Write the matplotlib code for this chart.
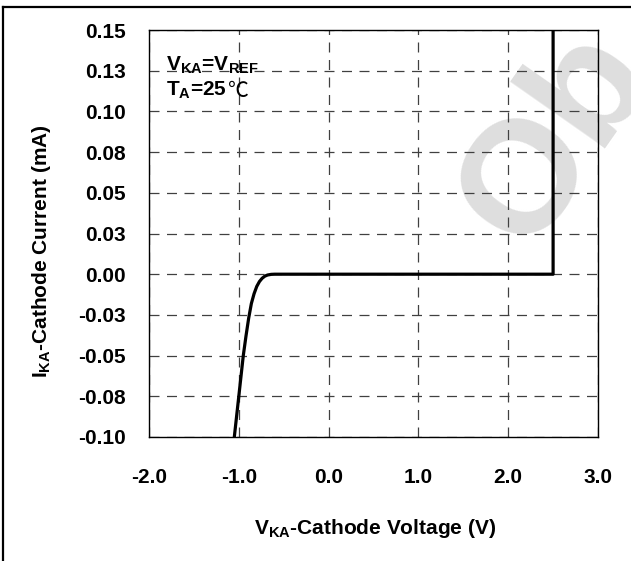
import numpy as np
import matplotlib.pyplot as plt
from matplotlib.lines import Line2D

# cathode voltage vs cathode current
v_ka = [-1.05, -1.00, -0.95, -0.92, -0.89, -0.86, -0.83, -0.80, -0.77, -0.74, -0.71, -0.68, -0.64, -0.60, -0.575, 2.50, 2.50]
i_ka = [-0.100, -0.075, -0.050, -0.038, -0.027, -0.018, -0.012, -0.0075, -0.0045, -0.0025, -0.0012, -0.0005, -0.0001, 0.0, 0.0, 0.0, 0.15]

x_ticks = [-2.0, -1.0, 0.0, 1.0, 2.0, 3.0]
x_labels = ['-2.0', '-1.0', '0.0', '1.0', '2.0', '3.0']
y_ticks = [0.15, 0.125, 0.10, 0.075, 0.05, 0.025, 0.0, -0.025, -0.05, -0.075, -0.10]
y_labels = ['0.15', '0.13', '0.10', '0.08', '0.05', '0.03', '0.00', '-0.03', '-0.05', '-0.08', '-0.10']

plt.rcParams['font.family'] = ['Liberation Sans', 'DejaVu Sans']
plt.rcParams['font.weight'] = 'bold'
plt.rcParams['mathtext.fontset'] = 'custom'
plt.rcParams['mathtext.rm'] = 'Liberation Sans:bold'
plt.rcParams['mathtext.it'] = 'Liberation Sans:bold'
plt.rcParams['mathtext.bf'] = 'Liberation Sans:bold'

fig = plt.figure(figsize=(6.31, 5.61), dpi=100)
ax = fig.add_axes([149/631, 1 - 437/561, (598 - 149)/631, (437 - 30)/561])

# watermark (cut by the right edge, as in the original)
fig.text(526/631, 1 - 253/561, 'Ob', rotation=55, rotation_mode='anchor',
         ha='left', va='baseline', fontsize=115, color='#dedede',
         fontweight='bold', zorder=-1)
ax.set_facecolor('none')

ax.plot(v_ka, i_ka, color='black', lw=2.3, solid_joinstyle='round', zorder=3)

ax.set_xlim(-2.0, 3.0)
ax.set_ylim(-0.10, 0.15)
ax.set_xticks(x_ticks)
ax.set_xticklabels(x_labels)
ax.set_yticks(y_ticks)
ax.set_yticklabels(y_labels)
ax.tick_params(length=0, labelsize=15)
ax.tick_params(axis='x', pad=22)
ax.tick_params(axis='y', pad=17)
ax.grid(True, color='0.25', ls=(0, (8, 6)), lw=0.9)
for s in ax.spines.values():
    s.set_linewidth(1.0)
    s.set_zorder(4)

ax.text(0.038, 0.94, r'V$_{\mathrm{KA}}$=V$_{\mathrm{REF}}$', transform=ax.transAxes,
        fontsize=15, ha='left', va='top')
t_a = ax.text(0.038, 0.878, r'T$_{\mathrm{A}}$=25', transform=ax.transAxes,
              fontsize=15, ha='left', va='top')
ax.annotate('℃', xy=(1, 1), xycoords=t_a, xytext=(1, 0), textcoords='offset points',
            ha='left', va='top', fontsize=15, fontweight='normal',
            family=['Noto Sans CJK SC', 'DejaVu Sans'])

fig.text(375/631, 1 - 528/561, r'V$_{\mathrm{KA}}$-Cathode Voltage (V)',
         fontsize=15, ha='center', va='center')
fig.text(42/631, 1 - 251/561, r'I$_{\mathrm{KA}}$-Cathode Current (mA)',
         fontsize=15, ha='center', va='center', rotation=90)

# outer frame (top and left only)
fig.add_artist(Line2D([3/631, 1], [1 - 7/561, 1 - 7/561], color='black', lw=1.6, transform=fig.transFigure))
fig.add_artist(Line2D([3/631, 3/631], [0, 1 - 7/561], color='black', lw=1.6, transform=fig.transFigure))

fig.savefig('out.png', dpi=100)
